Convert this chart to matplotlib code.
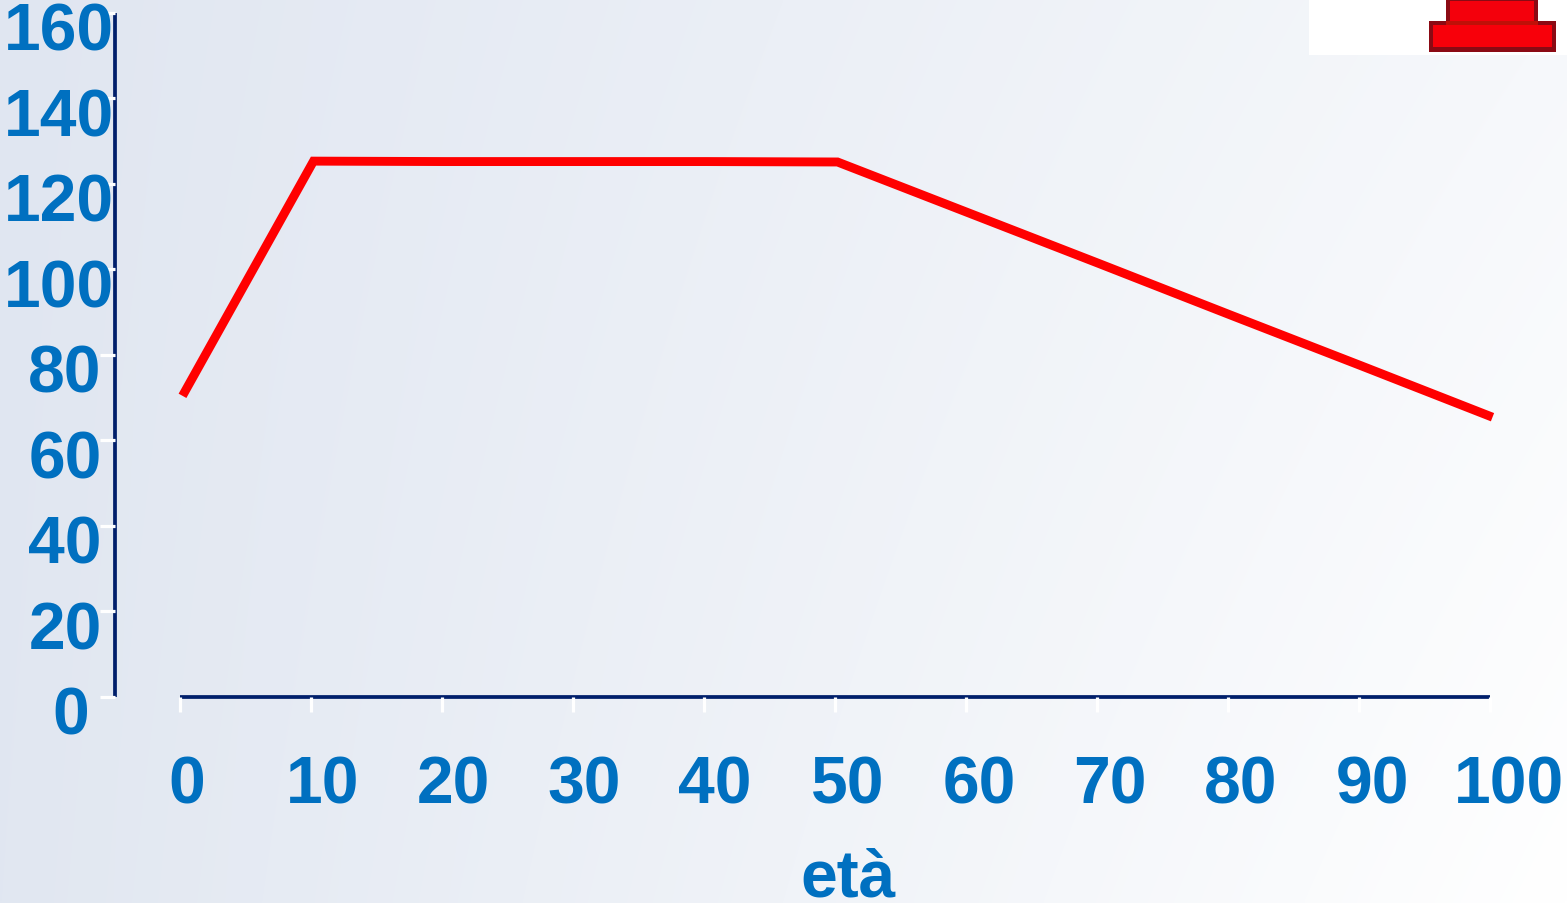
import matplotlib
matplotlib.use("Agg")
import matplotlib.pyplot as plt
from matplotlib.patches import Rectangle
from matplotlib.transforms import ScaledTranslation
import numpy as np

eta = [0, 10, 20, 30, 40, 50, 60, 70, 80, 90, 100]
valori = [70.8, 125.7, 125.6, 125.6, 125.6, 125.5, 113.6, 101.7, 89.7, 77.8, 65.8]
y_ticks = [0, 20, 40, 60, 80, 100, 120, 140, 160]

W, H = 1567, 904
BLUE = "#0070C0"
NAVY = "#001F6B"
plt.rcParams["font.family"] = ["Liberation Sans", "DejaVu Sans"]

fig = plt.figure(figsize=(W / 100, H / 100), dpi=100)

# soft background gradient, darker on the left and lighter bottom right
bg = fig.add_axes([0, 0, 1, 1], zorder=0)
bg.axis("off")
u, v = np.meshgrid(np.linspace(0, 1, 400), np.linspace(0, 1, 300))
u, v = u[..., None], v[..., None]
c_tl, c_tr = np.array([224, 230, 241]), np.array([246, 248, 251])
c_bl, c_br = np.array([225, 231, 241]), np.array([255, 255, 255])
grad = (1 - v) * ((1 - u) * c_tl + u * c_tr) + v * ((1 - u) * c_bl + u * c_br)
bg.imshow(grad / 255, extent=[0, 1, 0, 1], aspect="auto", interpolation="bilinear")

# plot area runs from x=0 to 100 and y=0 to 160
left, right = 180, 1490
bottom, top = 697.5, 13.5
ax = fig.add_axes([left / W, 1 - bottom / H, (right - left) / W, (bottom - top) / H], zorder=1)
ax.patch.set_alpha(0)
ax.set_xlim(0, 100)
ax.set_ylim(0, 160)

# curve sits a little right of and below its grid positions
nudge = ScaledTranslation(2.5 / 100, -2 / 100, fig.dpi_scale_trans)
ax.plot(eta, valori, color="#FF0000", lw=6.4, solid_capstyle="butt", solid_joinstyle="miter",
        clip_on=False, transform=ax.transData + nudge)

for s in ["top", "right"]:
    ax.spines[s].set_visible(False)
ax.spines["left"].set_position(("outward", 65 * 0.72))
for s in ["left", "bottom"]:
    ax.spines[s].set_color(NAVY)
    ax.spines[s].set_linewidth(2.7)
    ax.spines[s].set_capstyle("butt")
    ax.spines[s].set_zorder(1)

ax.set_xticks(eta)
ax.set_yticks(y_ticks)
ax.tick_params(axis="both", color="white", width=2.3, length=11, labelcolor=BLUE, labelsize=47.5)

# tick labels sit off-centre from their ticks, shifted in pixels
y_dx = [-6, 7, 7, 7, 7, 19, 19, 19, 19]
x_dx = [7, 12, 11, 11, 11, 13, 13, 13, 13, 13, 19]
for lab, dx in zip(ax.get_yticklabels(), y_dx):
    lab.set_fontweight("bold")
    lab.set_transform(lab.get_transform() + ScaledTranslation(dx / 100, -13 / 100, fig.dpi_scale_trans))
for lab, dx in zip(ax.get_xticklabels(), x_dx):
    lab.set_fontweight("bold")
    lab.set_transform(lab.get_transform() + ScaledTranslation(dx / 100, -38 / 100, fig.dpi_scale_trans))

ax.text(848 / W, 1 - 897 / H, "età", transform=fig.transFigure, ha="center", va="baseline",
        color=BLUE, fontsize=47.5, fontweight="bold")

# red stacked icon on a white box, top right corner
def px_rect(x0, y0, x1, y1, color):
    fig.add_artist(Rectangle((x0 / W, 1 - y1 / H), (x1 - x0) / W, (y1 - y0) / H,
                             transform=fig.transFigure, facecolor=color, edgecolor="none"))

px_rect(1309, 0, 1567, 56, "white")
px_rect(1446, 0, 1538, 27, "#8B0A14")
px_rect(1450, 2, 1534, 22, "#F4000C")
px_rect(1429, 22, 1556, 53, "#8B0A14")
px_rect(1433, 26, 1552, 48, "#F8000A")
px_rect(1446, 22, 1538, 26, "#C01008")

fig.savefig("out.png", dpi=100)
